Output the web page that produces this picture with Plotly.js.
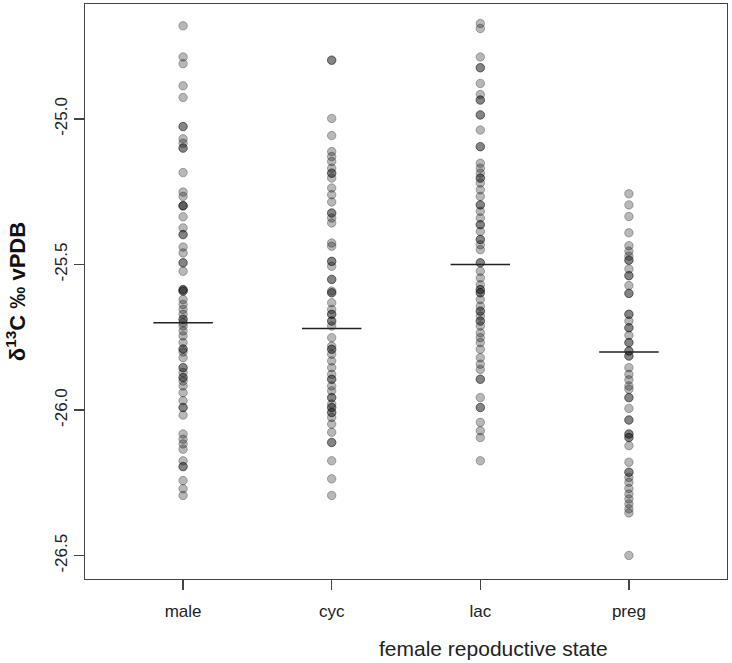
<!DOCTYPE html>
<html>
<head>
<meta charset="utf-8">
<script src="https://cdn.plot.ly/plotly-3.0.1.min.js"></script>
<style>html,body{margin:0;padding:0;background:#fff;}#chart{width:732px;height:663px;}</style>
</head>
<body>
<div id="chart"></div>
<script>
const categories = ["male", "cyc", "lac", "preg"];

const male = [-24.68, -24.787, -24.81, -24.886, -24.926, -25.026, -25.026, -25.068, -25.083, -25.10, -25.10,
  -25.184, -25.251, -25.266, -25.298, -25.298, -25.298, -25.336, -25.374, -25.397, -25.397, -25.44, -25.46,
  -25.494, -25.494, -25.523, -25.586, -25.586, -25.591, -25.591, -25.62, -25.637, -25.654, -25.671, -25.688,
  -25.688, -25.70, -25.711, -25.728, -25.745, -25.768, -25.79, -25.79, -25.80, -25.82, -25.854, -25.854,
  -25.871, -25.888, -25.888, -25.90, -25.917, -25.94, -25.968, -25.991, -25.991, -26.017, -26.082, -26.10,
  -26.116, -26.134, -26.174, -26.194, -26.194, -26.242, -26.27, -26.293];

const cyc = [-24.798, -24.798, -24.998, -25.057, -25.112, -25.129, -25.146, -25.169, -25.186, -25.186, -25.203,
  -25.237, -25.26, -25.285, -25.323, -25.323, -25.34, -25.357, -25.426, -25.437, -25.489, -25.489, -25.506,
  -25.551, -25.551, -25.591, -25.597, -25.597, -25.631, -25.654, -25.671, -25.671, -25.694, -25.694, -25.711,
  -25.751, -25.78, -25.791, -25.791, -25.808, -25.831, -25.854, -25.877, -25.894, -25.894, -25.917, -25.934,
  -25.957, -25.957, -25.979, -25.991, -25.991, -26.008, -26.008, -26.025, -26.048, -26.076, -26.111, -26.111,
  -26.174, -26.236, -26.293];

const lac = [-24.672, -24.689, -24.787, -24.824, -24.824, -24.878, -24.916, -24.935, -24.935, -24.986, -24.986,
  -25.038, -25.095, -25.095, -25.152, -25.169, -25.186, -25.203, -25.203, -25.22, -25.243, -25.266, -25.295,
  -25.295, -25.317, -25.34, -25.363, -25.363, -25.386, -25.414, -25.414, -25.432, -25.449, -25.494, -25.494,
  -25.523, -25.546, -25.569, -25.586, -25.586, -25.597, -25.597, -25.62, -25.643, -25.66, -25.66, -25.677,
  -25.694, -25.694, -25.711, -25.734, -25.751, -25.768, -25.791, -25.82, -25.842, -25.86, -25.894, -25.894,
  -25.957, -25.991, -25.991, -26.042, -26.071, -26.094, -26.174];

const preg = [-25.257, -25.295, -25.335, -25.391, -25.435, -25.454, -25.471, -25.485, -25.485, -25.515, -25.538,
  -25.538, -25.572, -25.599, -25.599, -25.671, -25.671, -25.694, -25.717, -25.717, -25.743, -25.768, -25.768,
  -25.797, -25.797, -25.814, -25.814, -25.854, -25.877, -25.896, -25.917, -25.928, -25.957, -25.957, -25.994,
  -26.034, -26.034, -26.082, -26.082, -26.094, -26.094, -26.122, -26.179, -26.213, -26.213, -26.231, -26.248,
  -26.269, -26.288, -26.305, -26.322, -26.339, -26.353, -26.499];

const groupMeans = [-25.70, -25.72, -25.50, -25.80];

const yTickVals = [-26.5, -26.0, -25.5, -25.0];
const yTickText = ["-26.5", "-26.0", "-25.5", "-25.0"];

const series = [male, cyc, lac, preg];
const traces = [];
series.forEach((vals, i) => {
  traces.push({
    type: "scatter", mode: "markers",
    x: vals.map(() => i + 1), y: vals,
    marker: {size: 8.5, color: "rgba(0,0,0,0.28)", line: {color: "rgba(0,0,0,0.28)", width: 1}},
    hoverinfo: "y", showlegend: false
  });
});
groupMeans.forEach((m, i) => {
  traces.push({
    type: "scatter", mode: "lines",
    x: [i + 1 - 0.2, i + 1 + 0.2], y: [m, m],
    line: {color: "#222", width: 1.5}, hoverinfo: "skip", showlegend: false
  });
});

const layout = {
  width: 732, height: 663,
  margin: {l: 85, r: 5, t: 4, b: 84},
  paper_bgcolor: "#fff", plot_bgcolor: "#fff",
  font: {family: "Liberation Sans, Arial, sans-serif", color: "#222", size: 17},
  xaxis: {
    range: [0.34, 4.66], tickmode: "array", tickvals: [1, 2, 3, 4], ticktext: categories,
    showgrid: false, zeroline: false, showline: true, mirror: true, linecolor: "#444", linewidth: 1.3,
    ticks: "outside", ticklen: 10, tickcolor: "#444", tickwidth: 1.3, ticklabelstandoff: 6,
    tickfont: {size: 17, color: "#222"}, automargin: false
  },
  yaxis: {
    range: [-26.58, -24.605], tickmode: "array", tickvals: yTickVals, ticktext: yTickText, tickangle: -90,
    showgrid: false, zeroline: false, showline: true, mirror: true, linecolor: "#444", linewidth: 1.3,
    ticks: "outside", ticklen: 10, tickcolor: "#444", tickwidth: 1.3,
    tickfont: {size: 17, color: "#222"}, automargin: false,
    title: {text: "<b>δ<sup>13</sup>C ‰ vPDB</b>", font: {size: 22, color: "#111"}, standoff: 20}
  },
  annotations: [{
    text: "female repoductive state", xref: "paper", yref: "paper",
    x: 0.637, y: -0.12, xanchor: "center", yanchor: "middle", showarrow: false,
    font: {size: 21, color: "#222"}
  }]
};

Plotly.newPlot("chart", traces, layout, {displayModeBar: false, staticPlot: true});
</script>
</body>
</html>
